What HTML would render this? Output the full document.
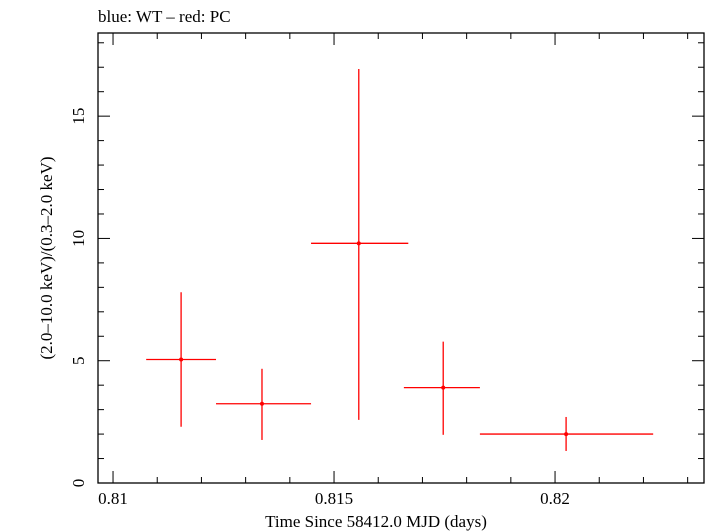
<!DOCTYPE html>
<html><head><meta charset="utf-8"><style>
body{margin:0;background:#fff;}
svg{display:block;font-family:"Liberation Serif",serif;}
</style></head><body>
<svg width="705" height="532" xmlns="http://www.w3.org/2000/svg">
<text x="98" y="22" font-size="17">blue: WT – red: PC</text>
<g id="axes"></g>
<g id="marks"></g>
<text x="376" y="527" font-size="17" text-anchor="middle">Time Since 58412.0 MJD (days)</text>
<text transform="translate(52,258) rotate(-90)" font-size="17" text-anchor="middle">(2.0–10.0 keV)/(0.3–2.0 keV)</text>
</svg>
<script>
const xCenter=[0.81154,0.81337,0.81556,0.81747,0.82025];
const xLow=[0.81075,0.81233,0.81448,0.81658,0.81830];
const xHigh=[0.81233,0.81448,0.81668,0.81830,0.82222];
const yVal=[5.05,3.24,9.8,3.9,2.0];
const yHigh=[7.8,4.67,16.93,5.78,2.7];
const yLow=[2.3,1.76,2.58,1.97,1.31];
const xTicks=[0.81,0.815,0.82];
const xTickLabels=["0.81","0.815","0.82"];
const yTicks=[0,5,10,15];
const yTickLabels=["0","5","10","15"];
const L=98,R=704,T=33,B=483;
const X0=0.80966,X1=0.82337,Y0=0,Y1=18.4;
const sx=v=>L+(v-X0)/(X1-X0)*(R-L);
const sy=v=>B-(v-Y0)/(Y1-Y0)*(B-T);
const NS="http://www.w3.org/2000/svg";
function mk(tag,attrs,parent){const e=document.createElementNS(NS,tag);for(const k in attrs)e.setAttribute(k,attrs[k]);parent.appendChild(e);return e;}
const ax=document.getElementById('axes');
const frame=mk('rect',{x:L,y:T,width:R-L,height:B-T,fill:'none',stroke:'#000','stroke-width':1.3},ax);


for(let v=0.810;v<=X1+1e-9;v+=0.001){const x=sx(v);const major=Math.abs(Math.round(v*200)-v*200)<1e-6;const len=major?12:6;
const t1=mk('line',{x1:x,x2:x,y1:B,y2:B-len,stroke:'#000','stroke-width':1},ax);


const t2=mk('line',{x1:x,x2:x,y1:T,y2:T+len,stroke:'#000','stroke-width':1},ax);

}
xTicks.forEach((v,i)=>{const t=mk('text',{x:sx(v),y:B+21,'font-size':17,'text-anchor':'middle'},ax);t.textContent=xTickLabels[i];

});
for(let v=0;v<=Y1;v+=1){const y=sy(v);const len=v%5===0?12:6;
const t1=mk('line',{x1:L,x2:L+len,y1:y,y2:y,stroke:'#000','stroke-width':1},ax);


const t2=mk('line',{x1:R,x2:R-len,y1:y,y2:y,stroke:'#000','stroke-width':1},ax);

}
yTicks.forEach((v,i)=>{const t=mk('text',{transform:`translate(84,${sy(v)}) rotate(-90)`,'font-size':17,'text-anchor':'middle'},ax);t.textContent=yTickLabels[i];

});
const mg=document.getElementById('marks');
xCenter.forEach((c,i)=>{
const h=mk('line',{x1:sx(xLow[i]),x2:sx(xHigh[i]),y1:sy(yVal[i]),y2:sy(yVal[i]),stroke:'#f00','stroke-width':1.3},mg);


const v=mk('line',{x1:sx(c),x2:sx(c),y1:sy(yLow[i]),y2:sy(yHigh[i]),stroke:'#f00','stroke-width':1.3},mg);


const p=mk('circle',{cx:sx(c),cy:sy(yVal[i]),r:2,fill:'#f00'},mg);


});
</script>
</body></html>
